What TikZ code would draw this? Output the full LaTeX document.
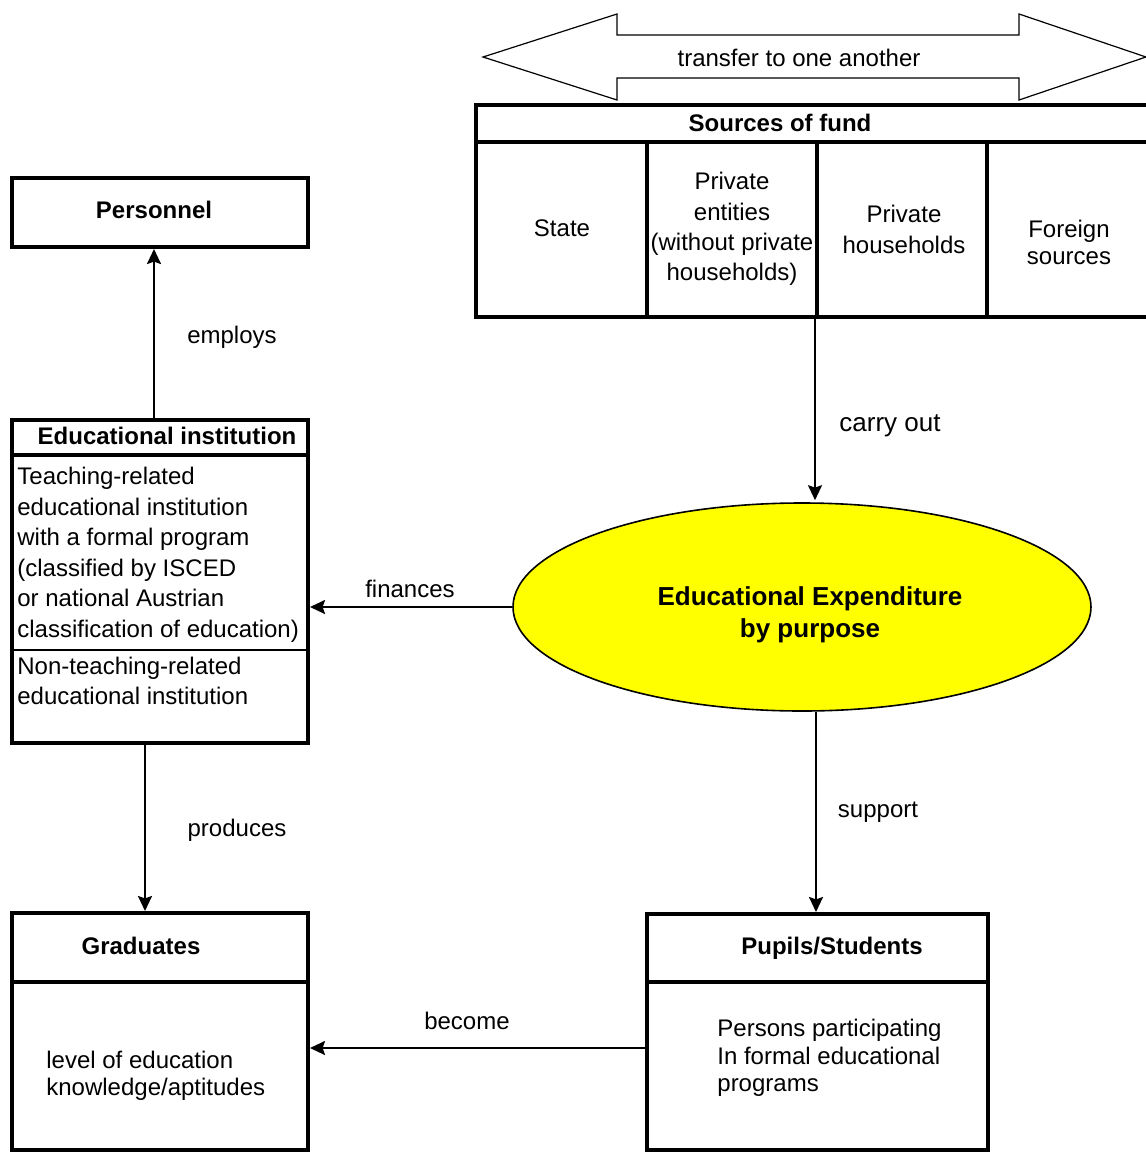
\documentclass[tikz,border=0pt]{standalone}
\usepackage{fontspec}
\setmainfont{Liberation Sans}
\usetikzlibrary{shapes.geometric,arrows.meta}
\definecolor{ellfill}{RGB}{255,255,0}
\begin{document}
\begin{tikzpicture}[x=0.5pt,y=-0.5pt,
  box/.style={draw, line width=2pt, inner sep=0pt, outer sep=0pt},
  txt/.style={inner sep=0pt, font=\fontsize{12}{15}\selectfont},
  hd/.style={inner sep=0pt, font=\fontsize{12}{15}\selectfont\bfseries},
  lbl/.style={inner sep=0pt, font=\fontsize{12}{15}\selectfont},
  arr/.style={line width=1.1pt, shorten >=1pt, -{Stealth[length=7.5pt,width=7pt,inset=1.2pt]}}]
\useasboundingbox (0,0) rectangle (1146,1152);
\clip (0,0) rectangle (1146,1152);

% double arrow
\draw[line width=0.6pt, fill=white] (483,57) -- (617,14) -- (617,35) -- (1019,35) -- (1019,14) -- (1146,57)
  -- (1019,100) -- (1019,78) -- (617,78) -- (617,100) -- cycle;
\node[lbl] (tr) at (799,58) {transfer to one another};

% sources of fund
\node[box, minimum width=347pt, minimum height=106pt] (src) at (823,211) {};
\draw[line width=2pt] (476,142) -- (1170,142);
\draw[line width=2pt] (647,142) -- (647,317);
\draw[line width=2pt] (817,142) -- (817,317);
\draw[line width=2pt] (987,142) -- (987,317);
\node[hd] (srch) at (780,123) {Sources of fund};
\node[txt] (st) at (562,228) {State};
\node[txt, align=center, font=\fontsize{12}{15.2}\selectfont] (pe) at (732,229) {Private\\entities\\(without private\\households)};
\node[txt, align=center, font=\fontsize{12}{15.5}\selectfont] (ph) at (904,229) {Private\\households};
\node[txt, align=center, font=\fontsize{12}{13.5}\selectfont] (fs) at (1069,242) {Foreign\\sources};

% personnel
\node[box, minimum width=148pt, minimum height=34.5pt] (pers) at (160,212.5) {};
\node[hd] (perst) at (154,210) {Personnel};

% educational institution
\node[box, minimum width=148pt, minimum height=161.5pt] (edu) at (160,581.5) {};
\draw[line width=2pt] (12,455) -- (308,455);
\draw[line width=1.2pt] (12,650) -- (308,650);
\node[hd] (eduh) at (167,436) {Educational institution};
\node[txt, anchor=west, align=left, font=\fontsize{12}{15.25}\selectfont] (teach) at (17,555) {Teaching-related\\educational institution\\with a formal program\\(classified by ISCED\\or national Austrian\\classification of education)};
\node[txt, anchor=west, align=left, font=\fontsize{12}{15}\selectfont] (nonteach) at (17,681) {Non-teaching-related\\educational institution};

% graduates
\node[box, minimum width=148pt, minimum height=118.5pt] (grad) at (160,1031.5) {};
\draw[line width=2pt] (12,982) -- (308,982);
\node[hd] (gradh) at (141,946) {Graduates};
\node[txt, anchor=west, align=left, font=\fontsize{12}{13.5}\selectfont] (gradt) at (46,1076) {level of education\\knowledge/aptitudes};

% pupils
\node[box, minimum width=170.5pt, minimum height=118pt] (pup) at (817.5,1032) {};
\draw[line width=2pt] (647,982) -- (988,982);
\node[hd] (puph) at (832,948) {Pupils/Students};
\node[txt, anchor=west, align=left, font=\fontsize{12}{13.75}\selectfont] (pupt) at (717,1058) {Persons participating\\In formal educational\\programs};

% ellipse
\node[ellipse, draw, line width=0.8pt, fill=ellfill, minimum width=289pt, minimum height=104pt, inner sep=0pt] (ell) at (802,607) {};
\node[inner sep=0pt, align=center, font=\fontsize{13}{16}\selectfont\bfseries] (ellt) at (810,615) {Educational Expenditure\\by purpose};

% connectors
\coordinate (xc) at (815,0);
\coordinate (xs) at (816,0);
\coordinate (xe) at (154,0);
\coordinate (xp) at (145,0);
\coordinate (yb) at (0,1048);
\draw[arr] (src.south -| xc) -- (ell.north -| xc);
\draw[arr] (ell.west) -- (ell.west -| edu.east);
\draw[arr] (ell.south -| xs) -- (pup.north -| xs);
\draw[arr] (edu.north -| xe) -- (pers.south -| xe);
\draw[arr] (edu.south -| xp) -- (grad.north -| xp);
\draw[arr] (pup.west |- yb) -- (grad.east |- yb);

\node[lbl, font=\fontsize{13}{15}\selectfont] (carry) at (890,426) {carry out};
\node[lbl] (fin) at (410,589) {finances};
\node[lbl] (sup) at (878,812) {support};
\node[lbl] (emp) at (232,337) {employs};
\node[lbl] (prod) at (237,830) {produces};
\node[lbl] (bec) at (467,1021) {become};
\end{tikzpicture}
\end{document}
